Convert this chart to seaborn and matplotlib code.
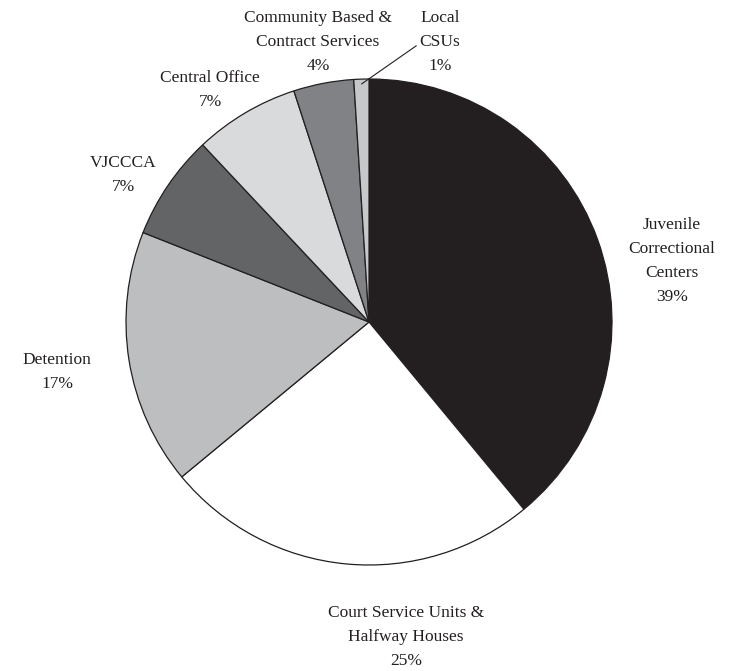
import numpy as np
import matplotlib
matplotlib.use("Agg")
import matplotlib.pyplot as plt
import seaborn as sns

# budget shares (percent), clockwise from 12 o'clock
categories = ["Juvenile\nCorrectional\nCenters",
              "Court Service Units &\nHalfway Houses",
              "Detention",
              "VJCCCA",
              "Central Office",
              "Community Based &\nContract Services",
              "Local\nCSUs"]
shares = [39, 25, 17, 7, 7, 4, 1]
colors = ["#231f20", "#ffffff", "#bdbec0", "#636466", "#d9dadb", "#808285", "#c7c8ca"]


def main():
    sns.set_theme(style="white")
    plt.rcParams['font.family'] = ['Liberation Serif', 'DejaVu Serif']

    fig = plt.figure(figsize=(7.39, 6.71), dpi=100)
    # pie centre at (369, 322) px, radius 243 px
    ax = fig.add_axes([(369 - 243) / 739, (671 - 322 - 243) / 671, 486 / 739, 486 / 671])
    wedges, _ = ax.pie(shares, colors=colors, startangle=90, counterclock=False,
                       radius=1.0,
                       wedgeprops=dict(edgecolor="#231f20", linewidth=0.9))
    ax.set_xlim(-1, 1)
    ax.set_ylim(-1, 1)
    ax.set_aspect("equal")
    ax.axis("off")

    # label block positions in data units (radius = 1)
    label_pos = [(1.247, 0.251), (0.152, -1.296), (-1.284, -0.206), (-1.012, 0.605),
                 (-0.654, 0.955), (-0.21, 1.152), (0.292, 1.152)]
    for i, (name, val) in enumerate(zip(categories, shares)):
        x, y = label_pos[i]
        txt = f"{name}\n{val}%"
        if i == 6:
            w = wedges[i]
            mid = np.deg2rad((w.theta1 + w.theta2) / 2)
            ax.annotate(txt, xy=(0.98 * np.cos(mid), 0.98 * np.sin(mid)),
                        xytext=(x, y), ha="center", va="center", fontsize=12.5,
                        color="#231f20", linespacing=1.68, annotation_clip=False,
                        arrowprops=dict(arrowstyle="-", color="#231f20", lw=0.8,
                                        shrinkA=0, shrinkB=0,
                                        relpos=(0.05, 0.5)))
        else:
            ax.text(x, y, txt, ha="center", va="center", fontsize=12.5,
                    color="#231f20", linespacing=1.68, clip_on=False)

    fig.savefig("out.png", dpi=100, facecolor="white")


if __name__ == '__main__':
    main()
